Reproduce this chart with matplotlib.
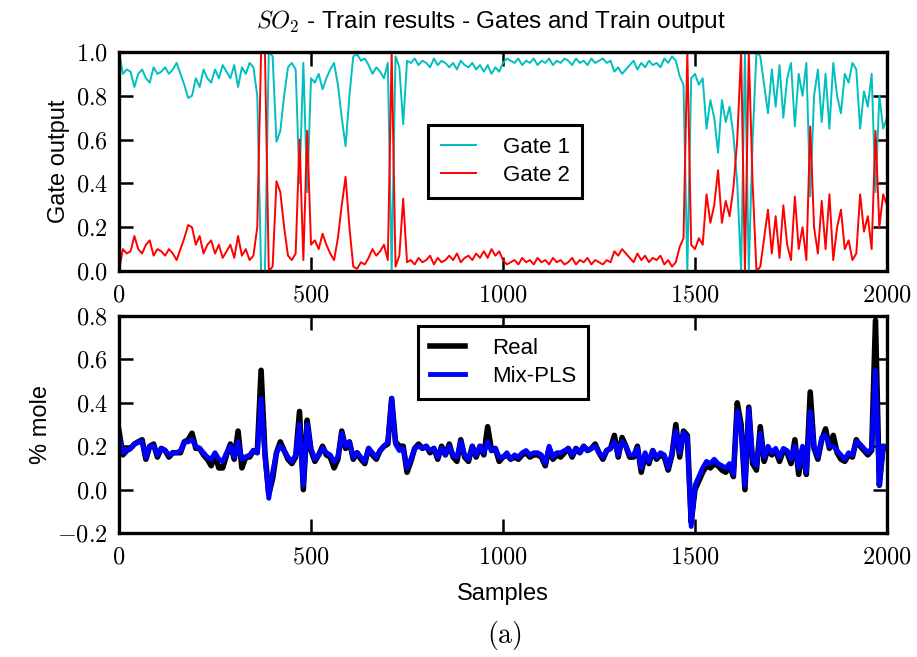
import numpy as np
import matplotlib
matplotlib.use("Agg")
import matplotlib.pyplot as plt
from matplotlib.ticker import FormatStrFormatter, MultipleLocator

plt.rcParams["font.family"] = ["Liberation Sans", "DejaVu Sans"]
plt.rcParams["mathtext.fontset"] = "cm"

# sample index grid (every 10th sample of the 2000-sample training set)
samples = np.arange(0, 2001, 10)

gate_2 = [
    0.00, 0.10, 0.08, 0.09, 0.16, 0.10, 0.08, 0.12, 0.14, 0.07,
    0.10, 0.09, 0.07, 0.10, 0.08, 0.05, 0.10, 0.15, 0.21, 0.20,
    0.12, 0.16, 0.08, 0.12, 0.14, 0.08, 0.12, 0.06, 0.09, 0.12,
    0.06, 0.16, 0.07, 0.10, 0.05, 0.07, 0.20, 1.00, 1.00, 0.00,
    0.02, 0.41, 0.36, 0.20, 0.07, 0.05, 0.08, 0.60, 0.05, 0.64,
    0.12, 0.14, 0.10, 0.17, 0.12, 0.08, 0.05, 0.15, 0.30, 0.43,
    0.20, 0.02, 0.01, 0.04, 0.03, 0.06, 0.10, 0.07, 0.09, 0.12,
    0.05, 1.00, 0.02, 0.07, 0.33, 0.04, 0.05, 0.03, 0.06, 0.04,
    0.05, 0.07, 0.03, 0.06, 0.04, 0.05, 0.07, 0.05, 0.08, 0.04,
    0.06, 0.07, 0.05, 0.08, 0.06, 0.09, 0.06, 0.10, 0.07, 0.09,
    0.05, 0.03, 0.04, 0.05, 0.03, 0.06, 0.04, 0.05, 0.03, 0.06,
    0.04, 0.05, 0.03, 0.06, 0.04, 0.05, 0.03, 0.04, 0.06, 0.03,
    0.05, 0.04, 0.06, 0.03, 0.05, 0.04, 0.03, 0.05, 0.04, 0.09,
    0.07, 0.10, 0.08, 0.06, 0.04, 0.08, 0.05, 0.07, 0.04, 0.06,
    0.05, 0.07, 0.03, 0.05, 0.02, 0.04, 0.11, 0.15, 1.00, 0.12,
    0.10, 0.15, 0.12, 0.35, 0.22, 0.30, 0.46, 0.22, 0.32, 0.25,
    0.38, 0.60, 1.00, 0.00, 1.00, 0.40, 0.00, 0.02, 0.15, 0.28,
    0.08, 0.25, 0.06, 0.30, 0.12, 0.05, 0.34, 0.10, 0.20, 0.05,
    0.66, 0.20, 0.08, 0.32, 0.10, 0.35, 0.05, 0.20, 0.28, 0.10,
    0.14, 0.05, 0.08, 0.35, 0.18, 0.25, 0.10, 0.64, 0.20, 0.35,
    0.30,
]

gate_1 = [
    1.00, 0.90, 0.92, 0.91, 0.84, 0.90, 0.92, 0.88, 0.86, 0.93,
    0.90, 0.91, 0.93, 0.90, 0.92, 0.95, 0.90, 0.85, 0.79, 0.80,
    0.88, 0.84, 0.92, 0.88, 0.86, 0.92, 0.88, 0.94, 0.91, 0.88,
    0.94, 0.84, 0.93, 0.90, 0.95, 0.93, 0.80, 0.00, 0.00, 1.00,
    0.98, 0.59, 0.64, 0.80, 0.93, 0.95, 0.92, 0.40, 0.95, 0.36,
    0.88, 0.86, 0.90, 0.83, 0.88, 0.92, 0.95, 0.85, 0.70, 0.57,
    0.80, 0.98, 0.99, 0.96, 0.97, 0.94, 0.90, 0.93, 0.91, 0.88,
    0.95, 0.00, 0.98, 0.93, 0.67, 0.96, 0.95, 0.97, 0.94, 0.96,
    0.95, 0.93, 0.97, 0.94, 0.96, 0.95, 0.93, 0.95, 0.92, 0.96,
    0.94, 0.93, 0.95, 0.92, 0.94, 0.91, 0.94, 0.90, 0.93, 0.91,
    0.95, 0.97, 0.96, 0.95, 0.97, 0.94, 0.96, 0.95, 0.97, 0.94,
    0.96, 0.95, 0.97, 0.94, 0.96, 0.95, 0.97, 0.96, 0.94, 0.97,
    0.95, 0.96, 0.94, 0.97, 0.95, 0.96, 0.97, 0.95, 0.96, 0.91,
    0.93, 0.90, 0.92, 0.94, 0.96, 0.92, 0.95, 0.93, 0.96, 0.94,
    0.95, 0.93, 0.97, 0.95, 0.98, 0.96, 0.89, 0.85, 0.00, 0.88,
    0.90, 0.85, 0.88, 0.65, 0.78, 0.70, 0.54, 0.78, 0.68, 0.75,
    0.62, 0.40, 0.00, 1.00, 0.00, 0.60, 1.00, 0.98, 0.85, 0.72,
    0.92, 0.75, 0.94, 0.70, 0.88, 0.95, 0.66, 0.90, 0.80, 0.95,
    0.34, 0.80, 0.92, 0.68, 0.90, 0.65, 0.95, 0.80, 0.72, 0.90,
    0.86, 0.95, 0.92, 0.65, 0.82, 0.75, 0.90, 0.36, 0.80, 0.65,
    0.70,
]

real = [
    0.27, 0.16, 0.18, 0.19, 0.21, 0.22, 0.23, 0.14, 0.20, 0.21,
    0.15, 0.19, 0.18, 0.15, 0.17, 0.17, 0.17, 0.22, 0.23, 0.26,
    0.19, 0.19, 0.16, 0.14, 0.11, 0.16, 0.10, 0.10, 0.16, 0.21,
    0.14, 0.27, 0.10, 0.15, 0.15, 0.18, 0.17, 0.55, 0.17, -0.02,
    0.05, 0.17, 0.22, 0.18, 0.14, 0.12, 0.15, 0.36, 0.00, 0.32,
    0.18, 0.13, 0.16, 0.20, 0.16, 0.15, 0.10, 0.14, 0.27, 0.19,
    0.22, 0.14, 0.17, 0.14, 0.12, 0.19, 0.16, 0.14, 0.18, 0.20,
    0.21, 0.42, 0.22, 0.20, 0.20, 0.08, 0.13, 0.19, 0.21, 0.19,
    0.20, 0.17, 0.19, 0.14, 0.20, 0.16, 0.21, 0.15, 0.13, 0.23,
    0.15, 0.13, 0.20, 0.15, 0.20, 0.16, 0.29, 0.18, 0.19, 0.13,
    0.15, 0.16, 0.14, 0.15, 0.14, 0.16, 0.17, 0.15, 0.16, 0.16,
    0.15, 0.11, 0.19, 0.14, 0.16, 0.15, 0.17, 0.19, 0.15, 0.19,
    0.17, 0.20, 0.18, 0.19, 0.21, 0.17, 0.14, 0.18, 0.19, 0.25,
    0.15, 0.24, 0.20, 0.15, 0.15, 0.20, 0.08, 0.16, 0.12, 0.18,
    0.14, 0.16, 0.15, 0.09, 0.16, 0.30, 0.15, 0.27, 0.25, -0.15,
    0.00, 0.04, 0.08, 0.11, 0.10, 0.12, 0.11, 0.09, 0.08, 0.11,
    0.06, 0.40, 0.30, 0.00, 0.38, 0.12, 0.09, 0.29, 0.13, 0.19,
    0.16, 0.18, 0.13, 0.18, 0.17, 0.12, 0.23, 0.07, 0.19, 0.07,
    0.45, 0.19, 0.14, 0.23, 0.28, 0.19, 0.25, 0.17, 0.14, 0.13,
    0.16, 0.15, 0.23, 0.20, 0.18, 0.16, 0.18, 0.78, 0.02, 0.20,
    0.19,
]

mix_pls = [
    0.24, 0.17, 0.18, 0.19, 0.21, 0.22, 0.22, 0.15, 0.20, 0.20,
    0.16, 0.19, 0.18, 0.16, 0.17, 0.17, 0.18, 0.22, 0.22, 0.23,
    0.20, 0.19, 0.17, 0.15, 0.14, 0.17, 0.14, 0.13, 0.17, 0.20,
    0.15, 0.22, 0.14, 0.15, 0.16, 0.18, 0.17, 0.42, 0.15, -0.04,
    0.08, 0.17, 0.20, 0.18, 0.15, 0.13, 0.16, 0.30, 0.02, 0.30,
    0.19, 0.14, 0.16, 0.19, 0.17, 0.16, 0.13, 0.15, 0.26, 0.20,
    0.22, 0.15, 0.17, 0.15, 0.13, 0.19, 0.17, 0.15, 0.18, 0.20,
    0.22, 0.42, 0.21, 0.18, 0.19, 0.10, 0.14, 0.19, 0.20, 0.19,
    0.20, 0.18, 0.19, 0.15, 0.19, 0.16, 0.20, 0.16, 0.15, 0.22,
    0.16, 0.14, 0.20, 0.16, 0.20, 0.17, 0.22, 0.18, 0.19, 0.15,
    0.15, 0.17, 0.14, 0.16, 0.15, 0.17, 0.18, 0.16, 0.17, 0.17,
    0.16, 0.12, 0.20, 0.15, 0.17, 0.17, 0.18, 0.19, 0.16, 0.19,
    0.17, 0.20, 0.18, 0.19, 0.20, 0.17, 0.15, 0.18, 0.19, 0.22,
    0.16, 0.22, 0.20, 0.16, 0.16, 0.19, 0.10, 0.17, 0.13, 0.18,
    0.15, 0.17, 0.16, 0.10, 0.17, 0.27, 0.17, 0.26, 0.24, -0.17,
    0.02, 0.06, 0.10, 0.13, 0.12, 0.14, 0.12, 0.11, 0.10, 0.12,
    0.07, 0.36, 0.28, 0.02, 0.37, 0.14, 0.11, 0.26, 0.15, 0.20,
    0.17, 0.19, 0.15, 0.19, 0.18, 0.14, 0.20, 0.10, 0.20, 0.08,
    0.36, 0.20, 0.15, 0.24, 0.25, 0.20, 0.20, 0.18, 0.16, 0.14,
    0.17, 0.16, 0.22, 0.21, 0.19, 0.17, 0.19, 0.55, 0.02, 0.20,
    0.20,
]


def style_axis(ax):
    for spine in ax.spines.values():
        spine.set_linewidth(2.4)
    ax.tick_params(which="both", direction="in", top=True, right=True,
                   length=10, width=1.8, labelsize=17.5)
    ax.tick_params(axis="x", pad=10)
    ax.tick_params(axis="y", pad=8)
    ax.xaxis.set_major_locator(MultipleLocator(500))
    ax.xaxis.set_major_formatter(FormatStrFormatter(r"$%d$"))
    ax.yaxis.set_major_formatter(FormatStrFormatter(r"$%.1f$"))
    ax.set_xlim(0, 2000)


def style_legend(leg):
    frame = leg.get_frame()
    frame.set_linewidth(2.2)
    frame.set_edgecolor("black")


fig = plt.figure(figsize=(9.17, 6.57), dpi=100)
ax1 = fig.add_axes([0.1298, 0.5875, 0.8375, 0.3334])
ax2 = fig.add_axes([0.1298, 0.1887, 0.8375, 0.3303])

ax1.plot(samples, gate_1, color="c", lw=1.4, label="Gate 1")
ax1.plot(samples, gate_2, color="r", lw=1.4, label="Gate 2")
ax1.set_ylim(0, 1)
ax1.yaxis.set_major_locator(MultipleLocator(0.2))
ax1.set_ylabel("Gate output", fontsize=17)
style_axis(ax1)
leg1 = ax1.legend(loc="center", bbox_to_anchor=(0.503, 0.5), fontsize=16,
                  fancybox=False, framealpha=1, handlelength=1.6,
                  handletextpad=1.2, borderpad=0.55, labelspacing=0.3)
style_legend(leg1)

ax2.plot(samples, real, color="k", lw=4, label="Real")
ax2.plot(samples, mix_pls, color="b", lw=3.5, label="Mix-PLS")
ax2.set_ylim(-0.2, 0.8)
ax2.yaxis.set_major_locator(MultipleLocator(0.2))
ax2.set_ylabel("% mole", fontsize=17)
ax2.set_xlabel("Samples", fontsize=17, labelpad=10)
style_axis(ax2)
leg2 = ax2.legend(loc="upper center", bbox_to_anchor=(0.5, 0.955), fontsize=16,
                  fancybox=False, framealpha=1, handlelength=1.6,
                  handletextpad=1.2, borderpad=0.55, labelspacing=0.3,
                  borderaxespad=0)
style_legend(leg2)

fig.text(0.535, 0.968, r"$SO_2$ - Train results - Gates and Train output",
         ha="center", va="center", fontsize=17.5)
fig.text(0.55, 0.033, r"$\mathrm{(a)}$", ha="center", va="center", fontsize=20)

fig.savefig("out.png", dpi=100)
